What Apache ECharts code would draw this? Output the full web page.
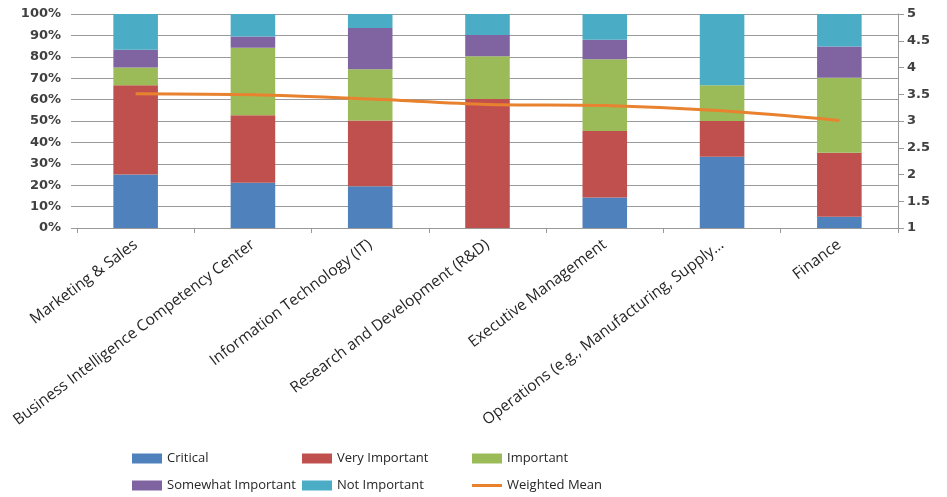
<!DOCTYPE html>
<html>
<head>
<meta charset="utf-8">
<script src="https://cdn.jsdelivr.net/npm/echarts@6/dist/echarts.min.js"></script>
<style>
html,body{margin:0;padding:0;background:#fff;}
#chart{width:947px;height:497px;}
</style>
</head>
<body>
<div id="chart"></div>
<script>
var categories = ['Marketing & Sales', 'Business Intelligence Competency Center', 'Information Technology (IT)', 'Research and Development (R&D)', 'Executive Management', 'Operations (e.g., Manufacturing, Supply…', 'Finance'];
var critical = [25, 21.1, 19.5, 0, 14.3, 33.3, 5.2];
var veryImportant = [41.7, 31.6, 30.7, 60.3, 31, 16.7, 30];
var important = [8.3, 31.5, 24, 19.9, 33.6, 16.7, 35];
var somewhatImportant = [8.3, 5.3, 19.2, 10, 9.1, 0, 14.6];
var notImportant = [16.7, 10.5, 6.6, 9.8, 12, 33.3, 15.2];
var weightedMean = [3.51, 3.49, 3.41, 3.31, 3.29, 3.19, 3.01];
var leftTicks = [0, 100, 10];
var rightTicks = [1, 5, 0.5];

var colors = ['#4F81BD', '#C0504D', '#9BBB59', '#8064A2', '#4BACC6', '#E8822F'];
var font = 'Open Sans';
var txt = '#262626';

function bar(name, data, color) {
  return {
    name: name, type: 'bar', stack: 'total', data: data, barWidth: '38%',
    itemStyle: { color: color }, yAxisIndex: 0
  };
}
function leg(name, left, top, h) {
  return {
    data: [name], left: left, top: top, itemWidth: 30, itemHeight: h || 10, icon: 'rect',
    selectedMode: false, padding: 0,
    textStyle: { fontFamily: font, fontSize: 13, color: txt }, itemGap: 3
  };
}

var chart = echarts.init(document.getElementById('chart'), null, { renderer: 'canvas' });
chart.setOption({
  animation: false,
  backgroundColor: '#ffffff',
  grid: { left: 77, right: 49, top: 14, bottom: 269, containLabel: false },
  legend: [
    leg('Critical', 132, 452),
    leg('Very Important', 302, 452),
    leg('Important', 472, 452),
    leg('Somewhat Important', 132, 479),
    leg('Not Important', 302, 479),
    leg('Weighted Mean', 472, 479, 3)
  ],
  xAxis: {
    type: 'category', data: categories,
    axisLine: { lineStyle: { color: '#999999' } },
    axisTick: { show: true, length: 5, lineStyle: { color: '#999999' } },
    axisLabel: { rotate: 37, interval: 0, fontFamily: font, fontSize: 15.5, color: txt, margin: 15 }
  },
  yAxis: [
    {
      type: 'value', min: leftTicks[0], max: leftTicks[1], interval: leftTicks[2],
      axisLabel: { formatter: '{value}%', fontFamily: 'DejaVu Sans', fontWeight: 'bold', fontSize: 13, color: '#404040', margin: 16 },
      axisLine: { show: false },
      axisTick: { show: true, length: 6, lineStyle: { color: '#999999' } },
      splitLine: { lineStyle: { color: '#9a9a9a' } }
    },
    {
      type: 'value', min: rightTicks[0], max: rightTicks[1], interval: rightTicks[2],
      position: 'right',
      axisLabel: { fontFamily: 'DejaVu Sans', fontWeight: 'bold', fontSize: 13, color: '#404040', margin: 9 },
      axisLine: { show: true, lineStyle: { color: '#999999' } },
      axisTick: { show: true, length: 6, lineStyle: { color: '#999999' } },
      splitLine: { show: false }
    }
  ],
  series: [
    bar('Critical', critical, colors[0]),
    bar('Very Important', veryImportant, colors[1]),
    bar('Important', important, colors[2]),
    bar('Somewhat Important', somewhatImportant, colors[3]),
    bar('Not Important', notImportant, colors[4]),
    {
      name: 'Weighted Mean', type: 'line', yAxisIndex: 1, data: weightedMean,
      smooth: 0.3, showSymbol: false, symbol: 'none',
      lineStyle: { color: colors[5], width: 3 }, itemStyle: { color: colors[5] }, z: 5
    }
  ]
});
</script>
</body>
</html>
